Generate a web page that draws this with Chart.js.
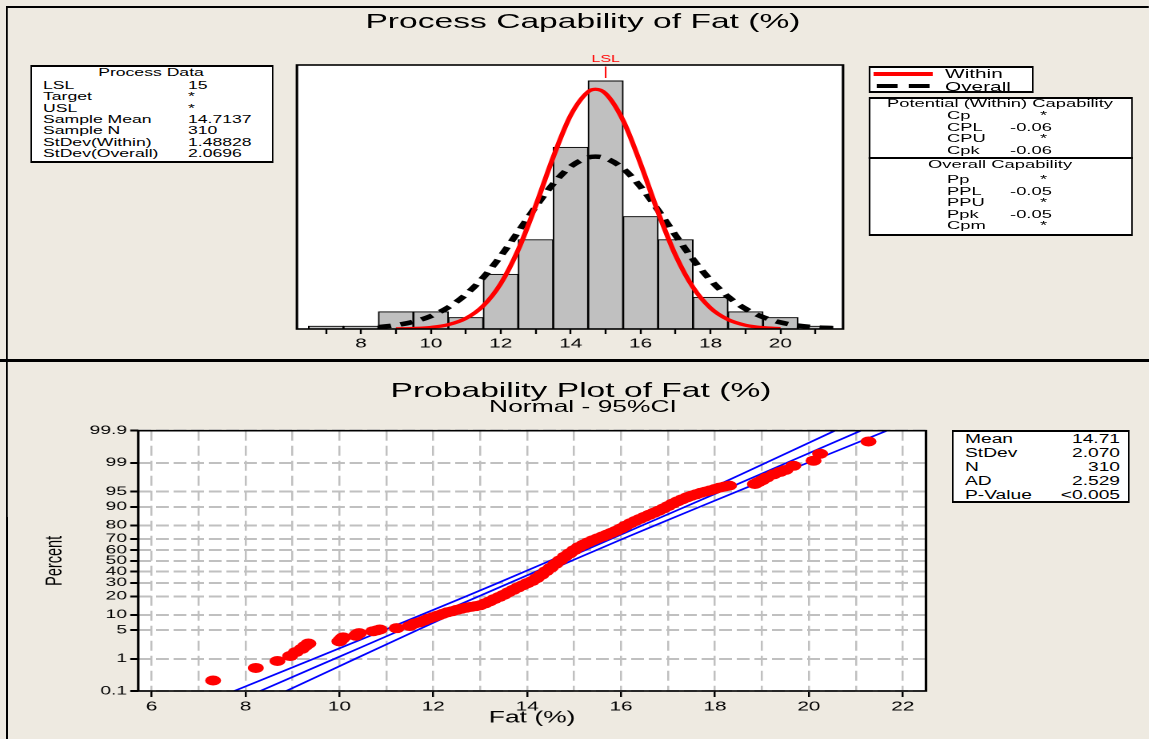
<!DOCTYPE html>
<html>
<head>
<meta charset="utf-8">
<script src="https://cdn.jsdelivr.net/npm/chart.js@4.4.1/dist/chart.umd.min.js"></script>
<style>
html, body { margin: 0; padding: 0; background: #eeeae1; width: 1149px; height: 739px; overflow: hidden; }
#stage { position: absolute; left: 0; top: 0; width: 718px; height: 739px; transform: scaleX(1.6); transform-origin: 0 0;
  font-family: "Liberation Sans", Arial, sans-serif; color: #000; }
canvas { position: absolute; left: 0; }
.t { position: absolute; white-space: nowrap; line-height: 1; transform: translateY(-50%); }
.box { position: absolute; background: #fff; border: 2px solid #000; border-left-width: 1.3px; border-right-width: 1.3px; box-sizing: border-box; }
.ln { position: absolute; background: #000; }
</style>
</head>
<body>
<div id="stage">
  <canvas id="cap" width="718" height="360" style="top:0"></canvas>
  <canvas id="prob" width="718" height="379" style="top:360px"></canvas>
</div>
<script>
// the source picture is stretched sideways, so everything is drawn narrow and scaled by SX
var SX = 1.6;

// histogram of Fat (%), bins of width 1 centred on integers
var histBins = [7, 8, 9, 10, 11, 12, 13, 14, 15, 16, 17, 18, 19, 20, 21];
var histCounts = [1, 1, 6, 6, 4, 19, 31, 63, 86, 39, 31, 11, 6, 4, 1];

// fitted curves (counts)
var withinX = [9, 9.5, 10, 10.5, 11, 11.5, 12, 12.5, 13, 13.5, 14, 14.5, 14.71, 15, 15.5, 16, 16.5, 17, 17.5, 18, 18.5, 19, 19.5, 20];
var withinY = [0.05, 0.18, 0.55, 1.51, 3.69, 8.07, 15.76, 27.49, 42.82, 59.59, 74.07, 82.25, 83.1, 81.58, 72.27, 57.2, 40.44, 25.54, 14.41, 7.26, 3.27, 1.31, 0.47, 0.15];
var overallX = [8.5, 9, 9.5, 10, 10.5, 11, 11.5, 12, 12.5, 13, 13.5, 14, 14.5, 14.71, 15, 15.5, 16, 16.5, 17, 17.5, 18, 18.5, 19, 19.5, 20, 20.5, 21, 21.5];
var overallY = [0.66, 1.32, 2.5, 4.47, 7.52, 11.95, 17.9, 25.3, 33.73, 42.42, 50.32, 56.31, 59.44, 59.76, 59.19, 55.6, 49.27, 41.18, 32.46, 24.14, 16.94, 11.21, 7.0, 4.12, 2.29, 1.2, 0.59, 0.28];
var lslValue = 15;
var capTicks = [7, 8, 9, 10, 11, 12, 13, 14, 15, 16, 17, 18, 19, 20, 21];

// probability plot points (Fat %, Percent)
var probFat = [7.31, 8.22, 8.68, 8.95, 9.07, 9.2, 9.27, 9.34, 10.0, 10.04, 10.08, 10.35, 10.38, 10.42, 10.72, 10.8, 10.86, 11.22, 11.5,
  11.6, 11.7, 11.8, 11.9, 12.0, 12.1, 12.2, 12.3, 12.4, 12.5, 12.6, 12.7, 12.8, 12.9, 13.0, 13.1, 13.2, 13.3, 13.4, 13.5,
  13.6, 13.7, 13.8, 13.9, 14.0, 14.1, 14.2, 14.3, 14.4, 14.5, 14.6, 14.7, 14.8, 14.9, 15.0, 15.1, 15.2, 15.3, 15.4, 15.5,
  15.6, 15.7, 15.8, 15.9, 16.0, 16.1, 16.2, 16.3, 16.4, 16.5, 16.6, 16.7, 16.8, 16.9, 17.0, 17.1, 17.2, 17.3, 17.4, 17.5,
  17.6, 17.7, 17.8, 17.9, 18.0, 18.1, 18.2, 18.3,
  18.85, 18.92, 19.0, 19.1, 19.25, 19.38, 19.5, 19.67, 20.1, 20.24, 21.27];
var probPct = [0.225, 0.55, 0.87, 1.19, 1.51, 1.84, 2.16, 2.48, 2.8, 3.12, 3.45, 3.77, 4.09, 4.3, 4.74, 4.95, 5.15, 5.5, 6.1,
  6.8, 7.2, 7.8, 8.5, 9.1, 9.7, 10.4, 11.1, 11.6, 12.2, 12.8, 13.3, 13.7, 14.1, 14.6, 15.6, 16.8, 18.2, 19.5, 21.0,
  22.8, 24.5, 26.3, 28.0, 29.8, 31.5, 34.0, 37.0, 40.3, 43.5, 47.0, 50.5, 54.0, 57.0, 60.0, 62.8, 65.0, 67.0, 68.8, 70.3,
  71.8, 73.3, 74.8, 76.3, 78.0, 79.8, 81.4, 82.8, 84.0, 85.2, 86.3, 87.3, 88.3, 89.3, 90.3, 91.3, 92.1, 92.8, 93.4, 93.9,
  94.3, 94.7, 95.0, 95.3, 95.6, 95.9, 96.1, 96.3,
  96.6, 96.9, 97.2, 97.6, 98.0, 98.25, 98.45, 98.8, 99.13, 99.45, 99.77];

// fitted line and 95% confidence band (Fat % at each Percent)
var ciPct = [0.1, 0.5, 1, 2, 5, 10, 20, 30, 50, 70, 80, 90, 95, 98, 99, 99.5, 99.9];
var ciFit = [8.313, 9.378, 9.895, 10.459, 11.305, 12.057, 12.968, 13.625, 14.71, 15.796, 16.452, 17.363, 18.115, 18.961, 19.526, 20.042, 21.107];
var ciLow = [7.759, 8.899, 9.451, 10.053, 10.952, 11.746, 12.700, 13.379, 14.480, 15.550, 16.184, 17.052, 17.761, 18.555, 19.082, 19.563, 20.553];
var ciHigh = [8.867, 9.857, 10.338, 10.865, 11.659, 12.368, 13.236, 13.870, 14.940, 16.041, 16.720, 17.674, 18.468, 19.367, 19.969, 20.521, 21.661];

var pctTicks = [0.1, 1, 5, 10, 20, 30, 40, 50, 60, 70, 80, 90, 95, 99, 99.9];
var fatTicks = [6, 7, 8, 9, 10, 11, 12, 13, 14, 15, 16, 17, 18, 19, 20, 21, 22];

// text tables
var pdLabels = ['LSL', 'Target', 'USL', 'Sample Mean', 'Sample N', 'StDev(Within)', 'StDev(Overall)'];
var pdValues = ['15', '*', '*', '14.7137', '310', '1.48828', '2.0696'];
var potLabels = ['Cp', 'CPL', 'CPU', 'Cpk'];
var potValues = ['*', '-0.06', '*', '-0.06'];
var ovLabels = ['Pp', 'PPL', 'PPU', 'Ppk', 'Cpm'];
var ovValues = ['*', '-0.05', '*', '-0.05', '*'];
var statLabels = ['Mean', 'StDev', 'N', 'AD', 'P-Value'];
var statValues = ['14.71', '2.070', '310', '2.529', '<0.005'];

// inverse normal cdf (Acklam) for the probability axis
function toZ(p) {
  var a = [-39.69683028665376, 220.9460984245205, -275.9285104469687, 138.3577518672690, -30.66479806614716, 2.506628277459239];
  var b = [-54.47609879822406, 161.5858368580409, -155.6989798598866, 66.80131188771972, -13.28068155288572];
  var c = [-0.007784894002430293, -0.3223964580411365, -2.400758277161838, -2.549732539343734, 4.374664141464968, 2.938163982698783];
  var d = [0.007784695709041462, 0.3224671290700398, 2.445134137142996, 3.754408661907416];
  var q, r;
  if (p < 0.02425) {
    q = Math.sqrt(-2 * Math.log(p));
    return (((((c[0]*q+c[1])*q+c[2])*q+c[3])*q+c[4])*q+c[5]) / ((((d[0]*q+d[1])*q+d[2])*q+d[3])*q+1);
  }
  if (p > 1 - 0.02425) {
    q = Math.sqrt(-2 * Math.log(1 - p));
    return -(((((c[0]*q+c[1])*q+c[2])*q+c[3])*q+c[4])*q+c[5]) / ((((d[0]*q+d[1])*q+d[2])*q+d[3])*q+1);
  }
  q = p - 0.5; r = q * q;
  return (((((a[0]*r+a[1])*r+a[2])*r+a[3])*r+a[4])*r+a[5])*q / (((((b[0]*r+b[1])*r+b[2])*r+b[3])*r+b[4])*r+1);
}

var stage = document.getElementById('stage');

function put(x, y, s, size, align, color) {
  var el = document.createElement('div');
  el.className = 't';
  el.textContent = s;
  el.style.left = (x / SX) + 'px';
  el.style.top = y + 'px';
  el.style.fontSize = size + 'px';
  if (color) el.style.color = color;
  if (align === 'center') el.style.transform = 'translate(-50%,-50%)';
  if (align === 'right') el.style.transform = 'translate(-100%,-50%)';
  stage.appendChild(el);
}
function box(x1, y1, x2, y2) {
  var el = document.createElement('div');
  el.className = 'box';
  el.style.left = (x1 / SX) + 'px';
  el.style.top = y1 + 'px';
  el.style.width = ((x2 - x1) / SX) + 'px';
  el.style.height = (y2 - y1) + 'px';
  stage.appendChild(el);
  return el;
}
function bar(x1, y1, x2, y2, color) {
  var el = document.createElement('div');
  el.className = 'ln';
  el.style.left = (x1 / SX) + 'px';
  el.style.top = y1 + 'px';
  el.style.width = ((x2 - x1) / SX) + 'px';
  el.style.height = (y2 - y1) + 'px';
  if (color) el.style.background = color;
  stage.appendChild(el);
}

Chart.defaults.font.family = '"Liberation Sans", Arial, sans-serif';
Chart.defaults.color = '#000';

var framePlugin = {
  id: 'frame',
  beforeDraw: function (c) {
    var a = c.chartArea, ctx = c.ctx;
    ctx.save();
    ctx.fillStyle = '#fff';
    ctx.fillRect(a.left, a.top, a.right - a.left, a.bottom - a.top);
    ctx.restore();
  },
  afterDatasetsDraw: function (c) {
    var a = c.chartArea, ctx = c.ctx;
    ctx.save();
    ctx.strokeStyle = '#000';
    ctx.lineWidth = 1.6;
    ctx.strokeRect(a.left, a.top, a.right - a.left, a.bottom - a.top);
    ctx.restore();
  }
};

var lslPlugin = {
  id: 'lsl',
  afterDraw: function (c) {
    var ctx = c.ctx, x = c.scales.x.getPixelForValue(lslValue), top = c.chartArea.top;
    ctx.save();
    ctx.strokeStyle = '#ff0000';
    ctx.lineWidth = 1;
    ctx.beginPath();
    ctx.moveTo(x, top + 1.5);
    ctx.lineTo(x, top + 13);
    ctx.stroke();
    ctx.fillStyle = '#ff0000';
    ctx.font = '10px "Liberation Sans", Arial, sans-serif';
    ctx.textAlign = 'center';
    ctx.textBaseline = 'middle';
    ctx.fillText('LSL', x, top - 6);
    ctx.restore();
  }
};

new Chart(document.getElementById('cap'), {
  type: 'bar',
  data: {
    datasets: [
      {
        type: 'line',
        data: withinX.map(function (x, i) { return { x: x, y: withinY[i] }; }),
        borderColor: '#ff0000', borderWidth: 3.2, pointRadius: 0,
        cubicInterpolationMode: 'monotone', order: 0
      },
      {
        type: 'line',
        data: overallX.map(function (x, i) { return { x: x, y: overallY[i] }; }),
        borderColor: '#000', borderWidth: 4.5, borderDash: [8, 6], pointRadius: 0,
        cubicInterpolationMode: 'monotone', order: 1
      },
      {
        type: 'bar',
        data: histBins.map(function (x, i) { return { x: x, y: histCounts[i] }; }),
        backgroundColor: '#c0c0c0', borderColor: '#000', borderWidth: 1,
        barPercentage: 1, categoryPercentage: 1, order: 2
      }
    ]
  },
  options: {
    responsive: false, animation: false, devicePixelRatio: 2,
    layout: { padding: { left: 185.6, right: 191.1, top: 65, bottom: 0 } },
    plugins: { legend: { display: false }, tooltip: { enabled: false } },
    scales: {
      x: {
        type: 'linear', min: 6.169, max: 21.79, offset: false,
        afterBuildTicks: function (s) { s.ticks = capTicks.map(function (v) { return { value: v }; }); },
        afterFit: function (s) { s.height = 31; },
        grid: { drawOnChartArea: false, offset: false, tickLength: 5, tickColor: '#000', tickWidth: 1.2 },
        border: { display: false },
        ticks: {
          autoSkip: false, maxRotation: 0, padding: 2, font: { size: 13 },
          callback: function (v) { return v % 2 === 0 ? String(v) : ''; }
        }
      },
      y: { display: false, min: 0, max: 91.5 }
    }
  },
  plugins: [framePlugin, lslPlugin]
});

function ciSet(arr) {
  return {
    type: 'line',
    data: ciPct.map(function (p, i) { return { x: arr[i], y: toZ(p / 100) }; }),
    borderColor: '#0000ff', borderWidth: 1.6, pointRadius: 0, tension: 0, order: 1
  };
}

new Chart(document.getElementById('prob'), {
  type: 'scatter',
  data: {
    datasets: [
      {
        data: probFat.map(function (x, i) { return { x: x, y: toZ(probPct[i] / 100) }; }),
        backgroundColor: '#ff0000', borderWidth: 0, pointRadius: 5, order: 0
      },
      ciSet(ciFit), ciSet(ciLow), ciSet(ciHigh)
    ]
  },
  options: {
    responsive: false, animation: false, devicePixelRatio: 2,
    layout: { padding: { left: 0, right: 139.25, top: 70.7, bottom: 0 } },
    plugins: { legend: { display: false }, tooltip: { enabled: false } },
    scales: {
      x: {
        type: 'linear', min: 5.715, max: 22.495,
        afterBuildTicks: function (s) { s.ticks = fatTicks.map(function (v) { return { value: v }; }); },
        afterFit: function (s) { s.height = 48; },
        grid: {
          color: '#c0c0c0', lineWidth: 1.25, tickLength: 6, tickWidth: 1.25,
          tickColor: function (ctx) { return ctx.tick && ctx.tick.value % 2 === 0 ? '#000' : 'rgba(0,0,0,0)'; }
        },
        border: { display: false, dash: [10, 5] },
        ticks: {
          autoSkip: false, maxRotation: 0, padding: 2, font: { size: 13 },
          callback: function (v) { return v % 2 === 0 ? String(v) : ''; }
        },
        title: { display: true, text: 'Fat (%)', font: { size: 16.5 }, padding: { top: 0, bottom: 11 } }
      },
      y: {
        type: 'linear', min: toZ(0.001), max: toZ(0.999),
        afterBuildTicks: function (s) { s.ticks = pctTicks.map(function (p) { return { value: toZ(p / 100) }; }); },
        afterFit: function (s) { s.width = 86.4; },
        grid: { color: '#c0c0c0', lineWidth: 2, tickLength: 5, tickWidth: 2, tickColor: '#000' },
        border: { display: false, dash: [8, 3] },
        ticks: {
          autoSkip: false, padding: 2, font: { size: 12 },
          callback: function (v, i) { return String(pctTicks[i]); }
        },
        title: { display: true, text: 'Percent', font: { size: 14.5 }, padding: { top: 25.7, bottom: 0 } }
      }
    }
  },
  plugins: [framePlugin]
});

// panel frames
bar(6, 6, 1149, 8);
bar(6, 6, 8, 361);
bar(0, 359, 1149, 362);
bar(6, 362, 8, 739);

// titles
put(583, 20, 'Process Capability of Fat (%)', 21, 'center');
put(581, 389, 'Probability Plot of Fat (%)', 21, 'center');
put(583, 406, 'Normal - 95%CI', 16.5, 'center');

// process data table
box(30, 65, 273, 163);
put(151, 72, 'Process Data', 11, 'center');
pdLabels.forEach(function (s, i) {
  put(43, 85 + i * 11.35, s, 11);
  put(188, 85 + i * 11.35, pdValues[i], 11);
});

// legend
box(868, 66, 1034, 93);
bar(874, 71.5, 933, 75.5, '#ff0000');
bar(876, 84, 897, 88);
bar(908, 84, 929, 88);
put(945, 73, 'Within', 13);
put(945, 86, 'Overall', 13);

// capability table
box(868, 97, 1133, 236);
bar(868, 157, 1133, 159);
put(1000, 104, 'Potential (Within) Capability', 11.5, 'center');
potLabels.forEach(function (s, i) {
  var y = 116 + i * 11.7;
  put(947, y, s, 11.5);
  put(potValues[i] === '*' ? 1040 : 1010, y, potValues[i], 11.5);
});
put(1000, 165, 'Overall Capability', 11.5, 'center');
ovLabels.forEach(function (s, i) {
  var y = 180.3 + i * 11.45;
  put(947, y, s, 11.5);
  put(ovValues[i] === '*' ? 1040 : 1010, y, ovValues[i], 11.5);
});

// probability plot statistics
box(952, 430, 1130, 503);
statLabels.forEach(function (s, i) {
  var y = 439.3 + i * 13.9;
  put(965, y, s, 12);
  put(1120, y, statValues[i], 12, 'right');
});
</script>
</body>
</html>
